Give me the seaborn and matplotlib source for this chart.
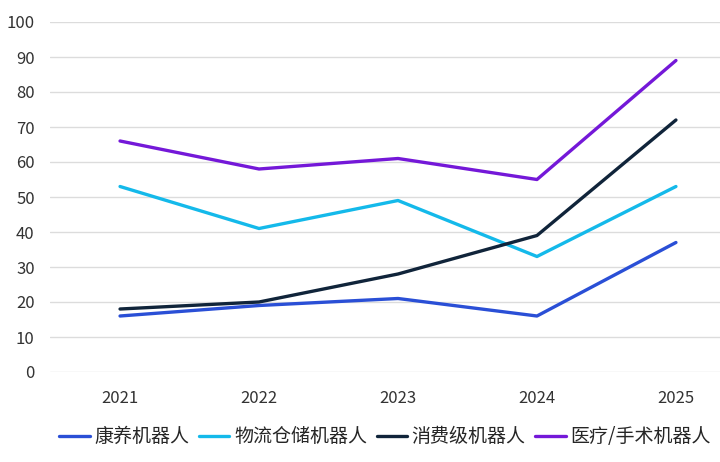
import matplotlib
matplotlib.use("Agg")
import matplotlib.pyplot as plt
import seaborn as sns
import pandas as pd

# chart data
years = [2021, 2022, 2023, 2024, 2025]
series_names = ["康养机器人", "物流仓储机器人", "消费级机器人", "医疗/手术机器人"]
kangyang = [16, 19, 21, 16, 37]
wuliu = [53, 41, 49, 33, 53]
xiaofei = [18, 20, 28, 39, 72]
yiliao = [66, 58, 61, 55, 89]
colors = ["#2a4fd6", "#14b9ea", "#10243a", "#7418d8"]

sns.set_style("white")
plt.rcParams["font.family"] = ["Noto Sans CJK SC", "DejaVu Sans"]

rows = []
for name, vals in zip(series_names, [kangyang, wuliu, xiaofei, yiliao]):
    for y, v in zip(years, vals):
        rows.append({"year": y, "value": v, "series": name})
df = pd.DataFrame(rows)

fig = plt.figure(figsize=(7.2, 4.62), dpi=100)
ax = fig.add_axes([50 / 720, 1 - 372 / 462, 670 / 720, 350 / 462])

sns.lineplot(data=df, x="year", y="value", hue="series", hue_order=series_names,
             palette=colors, linewidth=2.4, ax=ax, legend=True)

ax.set_xlim(2020.496, 2025.317)
ax.set_ylim(0, 100)
ax.set_yticks(range(0, 101, 10))
ax.set_xticks(years)
ax.set_xticklabels([str(y) for y in years])
ax.grid(axis="y", color="#dcdcdc", linewidth=1)
ax.set_axisbelow(True)
for s in ax.spines.values():
    s.set_visible(False)
ax.tick_params(axis="both", length=0, labelsize=12, colors="#333333")
ax.tick_params(axis="x", pad=13)
ax.tick_params(axis="y", pad=11)
ax.set_xlabel("")
ax.set_ylabel("")

handles, labels = ax.get_legend_handles_labels()
ax.legend(handles, labels, loc="center", bbox_to_anchor=(0.5, -0.185),
          ncol=4, frameon=False, fontsize=13.7, handlelength=1.6, handletextpad=0.25,
          columnspacing=0.5, borderaxespad=0)

fig.savefig("out.png", dpi=100)
